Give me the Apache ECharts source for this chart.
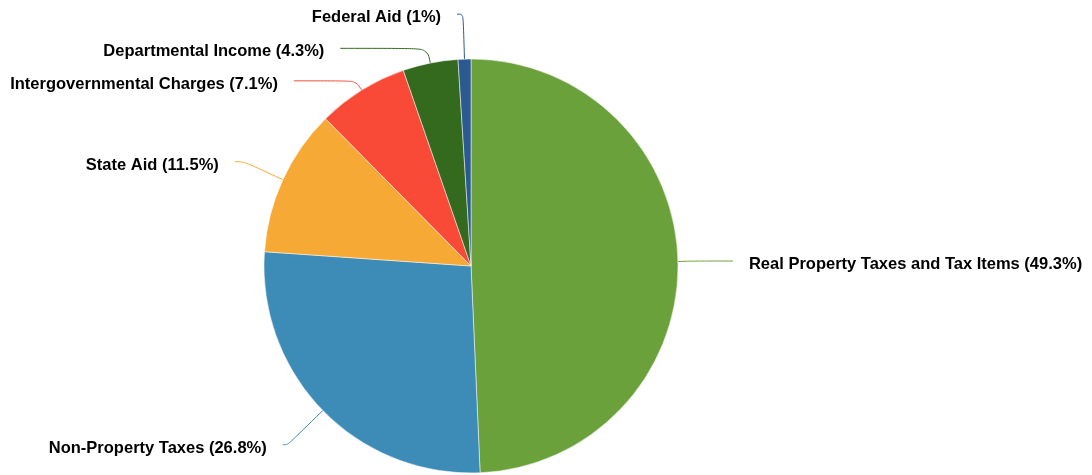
<!DOCTYPE html>
<html>
<head>
<meta charset="utf-8">
<script src="https://cdn.jsdelivr.net/npm/echarts@6/dist/echarts.min.js"></script>
<style>html,body{margin:0;padding:0;background:#fff;}#c{width:1092px;height:475px;}</style>
</head>
<body>
<div id="c"></div>
<script>
const categories = ['Real Property Taxes and Tax Items', 'Non-Property Taxes', 'State Aid', 'Intergovernmental Charges', 'Departmental Income', 'Federal Aid'];
const shares = [49.3, 26.8, 11.5, 7.1, 4.3, 1];
const shareLabels = ['49.3%', '26.8%', '11.5%', '7.1%', '4.3%', '1%'];
const colors = ['#6aa13b', '#3d8bb7', '#f7a935', '#f94a38', '#336a1e', '#2a5a8f'];
const lineLen1 = [20, 49, 43, 11, 15, 45];
const lineLen2 = [35, 5, 9, 62, 87, 6];

const chart = echarts.init(document.getElementById('c'));
chart.setOption({
  animation: false,
  series: [{
    type: 'pie',
    center: [471, 266],
    radius: 207,
    startAngle: 90,
    clockwise: true,
    avoidLabelOverlap: false,
    itemStyle: { borderColor: '#fff', borderWidth: 0.5 },
    label: {
      show: true,
      fontFamily: 'Liberation Sans, Arial, sans-serif',
      fontWeight: 'bold',
      fontSize: 16.5,
      color: '#000',
      distanceToLabelLine: 16,
      bleedMargin: 0,
      overflow: 'none',
      formatter: function (p) { return '{t|' + p.name + ' (' + shareLabels[p.dataIndex] + ')}'; },
      rich: {
        t: { fontFamily: 'Liberation Sans, Arial, sans-serif', fontWeight: 'bold', fontSize: 16.5, color: '#000', padding: [7, 0, 0, 0] }
      }
    },
    labelLine: { show: true, smooth: 0.4, lineStyle: { width: 1 } },
    emphasis: { disabled: true },
    data: categories.map(function (c, i) {
      return {
        name: c,
        value: shares[i],
        itemStyle: { color: colors[i] },
        labelLine: { length: lineLen1[i], length2: lineLen2[i], lineStyle: { color: colors[i] } }
      };
    })
  }]
});
</script>
</body>
</html>
